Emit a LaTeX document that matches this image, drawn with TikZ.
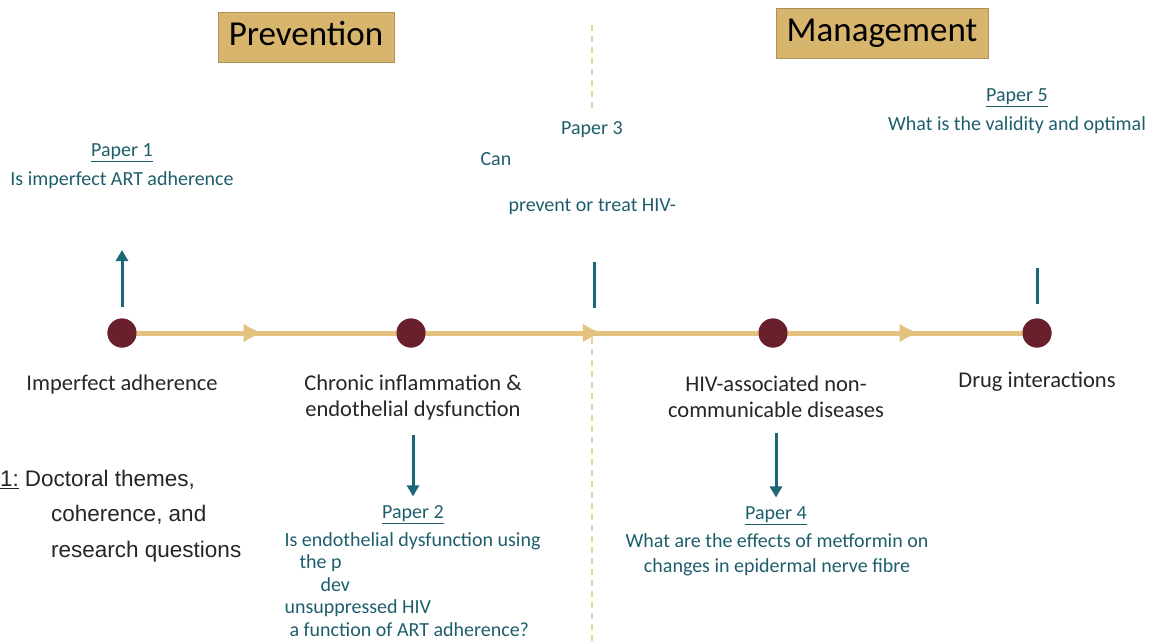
\documentclass[tikz,border=0pt]{standalone}
\usepackage{fontspec}
\setmainfont{Carlito}
\newfontfamily\capfont{Liberation Sans}
\usetikzlibrary{arrows.meta,decorations.markings}
\definecolor{boxtan}{HTML}{D8B56C}
\definecolor{linetan}{HTML}{E2C27E}
\definecolor{dashtan}{HTML}{EAD194}
\definecolor{dotred}{HTML}{6A1F2D}
\definecolor{tealline}{HTML}{1C6676}
\definecolor{tealtext}{HTML}{1E5E6C}
\tikzset{
    theme/.style={fill=boxtan,draw=boxtan!80!black,line width=0.3pt,inner xsep=11pt,inner ysep=9pt,
        text height=24pt,text depth=8pt,font=\fontsize{35}{40}\selectfont},
    event/.style={circle,fill=dotred,minimum size=29pt,inner sep=0pt},
    eventlabel/.style={align=center,text=black!85,font=\fontsize{22.5}{26}\selectfont},
    papertitle/.style={text=tealtext,font=\fontsize{20}{23}\selectfont},
    question/.style={text=tealtext,font=\fontsize{20}{23.5}\selectfont},
    timeline/.style={draw=linetan,line width=5pt,postaction={decorate},
        decoration={markings,mark=at position #1 with {\arrow{Latex[length=20pt,width=19pt]}}}},
    link/.style={draw=tealline,line width=3pt,-{Triangle[length=11pt,width=12pt]}},
    stem/.style={draw=tealline,line width=3pt},
    divider/.style={draw=dashtan,line width=1.3pt,dash pattern=on 6pt off 5pt}
}
\begin{document}
\begin{tikzpicture}[x=1pt,y=-1pt]
\useasboundingbox (0,0) rectangle (1167,641);
% themes
\node[theme] (prev) at (306,37) {Prevention};
\node[theme] (mgmt) at (882,33) {Management};
% dashed divider
\coordinate (dv1) at (592,25);
\coordinate (dv2) at (592,110);
\coordinate (dv3) at (592,338);
\coordinate (dv4) at (592,641);
\draw[divider] (dv1) -- (dv2);
\draw[divider] (dv3) -- (dv4);
% timeline
\node[event] (d1) at (122,333) {};
\node[event] (d2) at (411,333) {};
\node[event] (d3) at (773,333) {};
\node[event] (d4) at (1037,333) {};
\draw[timeline=0.49] (d1.center) -- (d2.center);
\draw[timeline=0.53] (d2.center) -- (d3.center);
\draw[timeline=0.555] (d3.center) -- (d4.center);
\foreach \d in {d1,d2,d3,d4}
    \node[event] at (\d) {};
% event labels
\node[eventlabel] (l1) at (122,384) {Imperfect adherence};
\node[eventlabel] (l2) at (413,397) {Chronic inflammation \&\\endothelial dysfunction};
\node[eventlabel] (l3) at (776,397) {HIV-associated non-\\communicable diseases};
\node[eventlabel] (l4) at (1037,382) {Drug interactions};
% papers
\node[papertitle] (p1) at (122,153) {\underline{Paper 1}};
\node[question] (q1) at (122,180) {Is imperfect ART adherence};
\node[papertitle] (p2) at (413,515) {\underline{Paper 2}};
\node[question,align=left,anchor=north west,font=\fontsize{20}{22.5}\selectfont] (q2) at (281,529)
    {Is endothelial dysfunction using\\
     \hspace{15pt}the p\\
     \hspace{36pt}dev\\
     unsuppressed HIV\\
     \hspace{5pt}a function of ART adherence?};
\node[papertitle] (p3) at (592,130) {Paper 3};
\node[question,anchor=west] (q3a) at (477,159) {Can};
\node[question,anchor=west] (q3b) at (505,207) {prevent or treat HIV-};
\node[papertitle] (p4) at (776,516) {\underline{Paper 4}};
\node[question,align=center,font=\fontsize{20}{24.5}\selectfont] (q4) at (777,555)
    {What are the effects of metformin on\\changes in epidermal nerve fibre};
\node[papertitle] (p5) at (1017,98) {\underline{Paper 5}};
\node[question] (q5) at (1017,125) {What is the validity and optimal};
% connectors
\coordinate (c1) at (122,250);
\coordinate (s3a) at (594,308);
\coordinate (s3b) at (594,262);
\coordinate (s5) at (1037,268);
\draw[link,shorten <=11pt] (d1) -- (c1);
\draw[stem] (s3a) -- (s3b);
\draw[stem,shorten <=14pt] (d4) -- (s5);
\draw[link,shorten <=12pt,shorten >=6pt] (l2) -- (p2);
\draw[link,shorten <=12pt,shorten >=6pt] (l3) -- (p4);
% caption
\node[align=left,anchor=west,inner xsep=0pt,font=\capfont\fontsize{22.5}{35.5}\selectfont,text=black!85] (cap) at (0,516)
    {\underline{1:}\hspace{6pt}Doctoral themes,\\
     \hspace{51pt}coherence, and\\
     \hspace{51pt}research questions};
\end{tikzpicture}
\end{document}
